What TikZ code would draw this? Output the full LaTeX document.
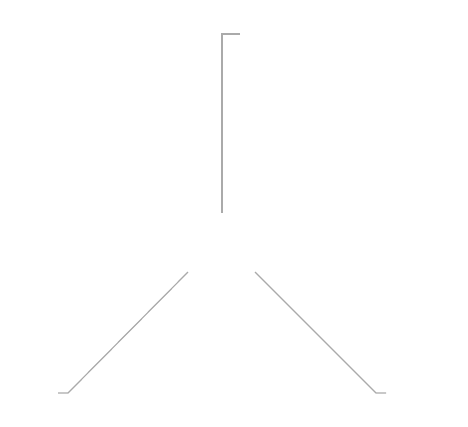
\documentclass[tikz,border=0pt]{standalone}
\definecolor{linegray}{HTML}{AAAAAA}
\tikzset{stroke/.style={draw=linegray, line width=1.2bp}}
\begin{document}
\begin{tikzpicture}[x=1bp,y=-1bp]
\useasboundingbox (0,0) rectangle (468,426);
\coordinate (tE) at (240,34);
\coordinate (tC) at (222,34);
\coordinate (tB) at (222,213);
\coordinate (lT) at (188,272);
\coordinate (lC) at (68,393);
\coordinate (lE) at (58,393);
\coordinate (rT) at (255,272);
\coordinate (rC) at (376,393);
\coordinate (rE) at (386,393);
\draw[stroke] (tE) -- (tC) -- (tB);
\draw[stroke] (lT) -- (lC) -- (lE);
\draw[stroke] (rT) -- (rC) -- (rE);
\end{tikzpicture}
\end{document}
